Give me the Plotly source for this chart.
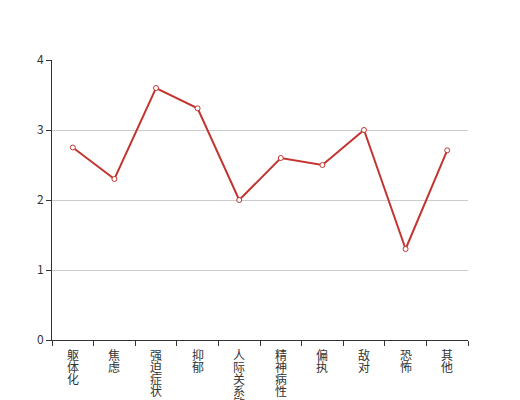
import plotly.graph_objects as go

categories = ["躯体化", "焦虑", "强迫症状", "抑郁", "人际关系敏感", "精神病性", "偏执", "敌对", "恐怖", "其他"]
values = [2.75, 2.3, 3.6, 3.31, 2.0, 2.6, 2.5, 3.0, 1.3, 2.71]
y_ticks = [0, 1, 2, 3, 4]

FONT = "Noto Sans CJK SC, Noto Sans, sans-serif"

fig = go.Figure()
fig.add_trace(go.Scatter(
    x=categories, y=values, mode="lines+markers",
    line=dict(color="#c23531", width=2),
    marker=dict(symbol="circle", size=5, color="white",
                line=dict(color="#c23531", width=1)),
    hoverinfo="skip", showlegend=False,
))

annotations = []
for cat in categories:
    for i, ch in enumerate(cat):
        annotations.append(dict(
            x=cat, xref="x", y=0, yref="paper", yanchor="middle",
            xanchor="center", yshift=-14 - 12 * i, text=ch,
            showarrow=False, font=dict(size=12, color="#333", family=FONT),
        ))

fig.update_layout(
    width=520, height=400,
    margin=dict(l=44, r=60, t=52, b=68),
    paper_bgcolor="white", plot_bgcolor="white",
    font=dict(family=FONT, size=12, color="#333"),
    annotations=annotations,
    xaxis=dict(
        type="category", categoryorder="array", categoryarray=categories,
        range=[-0.5, len(categories) - 0.5],
        showgrid=False, zeroline=False, showline=True, linecolor="#333", linewidth=1,
        ticks="outside", ticklen=5, tickcolor="#333", tickson="boundaries",
        showticklabels=False, fixedrange=True,
    ),
    yaxis=dict(
        range=[0, 4], tickvals=y_ticks, showgrid=True, gridcolor="#ccc", gridwidth=1,
        zeroline=False, showline=True, linecolor="#333", linewidth=1,
        ticks="outside", ticklen=5, tickcolor="#333",
        tickfont=dict(size=12, color="#333"), fixedrange=True,
    ),
)

fig.write_html("out.html", config={"displayModeBar": False})
